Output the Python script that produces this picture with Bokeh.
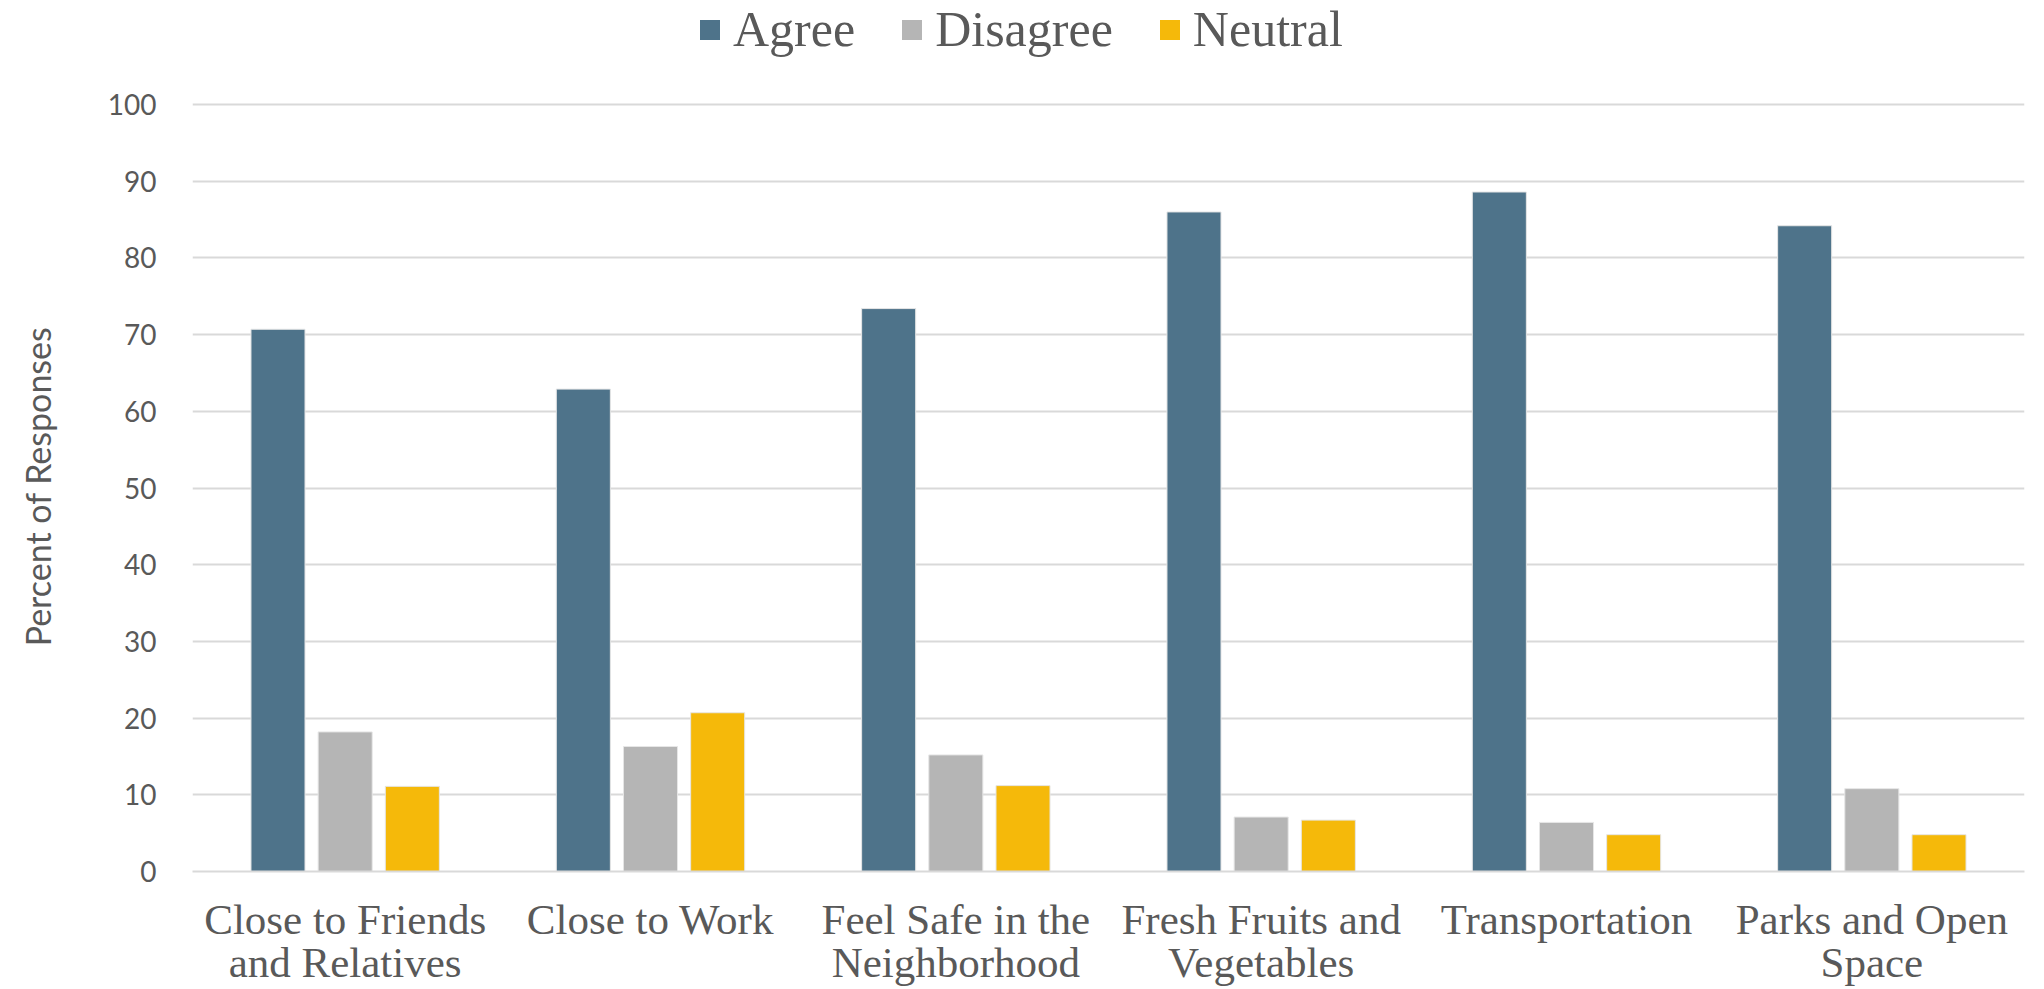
from bokeh.plotting import figure
from bokeh.models import ColumnDataSource, Legend, LegendItem, FactorRange
from bokeh.layouts import column
from bokeh.transform import dodge
from bokeh.embed import file_html
from bokeh.resources import INLINE

categories = ["Close to Friends\nand Relatives", "Close to Work", "Feel Safe in the\nNeighborhood",
              "Fresh Fruits and\nVegetables", "Transportation", "Parks and Open\nSpace"]
agree = [70.7, 62.9, 73.4, 86.0, 88.6, 84.2]
disagree = [18.2, 16.3, 15.2, 7.1, 6.4, 10.8]
neutral = [11.1, 20.7, 11.2, 6.7, 4.8, 4.8]
series_names = ["Agree", "Disagree", "Neutral"]
colors = ["#4E738A", "#B5B5B5", "#F5B90A"]
y_ticks = [0, 10, 20, 30, 40, 50, 60, 70, 80, 90, 100]

src = ColumnDataSource(dict(cat=categories, agree=agree, disagree=disagree, neutral=neutral))

W, H = 2040, 989
T = 72  # legend strip height
FRAME_LEFT = 192

# ---- legend strip ----
lg = figure(width=W, height=T, x_range=(0, 1), y_range=(0, 1), x_axis_type=None, y_axis_type=None,
            output_backend="svg", toolbar_location=None,
            min_border_left=FRAME_LEFT, min_border_right=W - 2024, min_border_top=0, min_border_bottom=0)
lg.outline_line_color = None
lg.xgrid.visible = False
lg.ygrid.visible = False
proxy = ColumnDataSource(dict(x=[float("nan")], top=[float("nan")]))  # legend proxies only, nothing drawn
lg_renderers = [lg.vbar(x="x", top="top", width=0.1, source=proxy, fill_color=c, line_color=None)
                for c in colors]
legend = Legend(items=[LegendItem(label=n, renderers=[r]) for n, r in zip(series_names, lg_renderers)],
                orientation="horizontal", location=(697 - FRAME_LEFT, 14))
legend.label_text_font = "Liberation Serif"
legend.label_text_font_size = "50px"
legend.label_text_color = "#595959"
legend.glyph_width = 25
legend.glyph_height = 25
legend.label_standoff = 11
legend.spacing = 44
legend.padding = 0
legend.margin = 0
legend.border_line_color = None
legend.background_fill_alpha = 0
lg.add_layout(legend, "center")

# ---- main chart ----
MH = H - T
p = figure(x_range=FactorRange(*categories), y_range=(0, 100.4), width=W, height=MH,
           output_backend="svg", toolbar_location=None,
           min_border_left=FRAME_LEFT, min_border_right=W - 2024, min_border_top=101 - T,
           min_border_bottom=H - 871)
p.outline_line_color = None
p.background_fill_color = "white"

for key, off, col in zip(["agree", "disagree", "neutral"], [-0.22, 0.0, 0.22], colors):
    p.vbar(x=dodge("cat", off, range=p.x_range), top=key, width=0.177, source=src,
           fill_color=col, line_color="#E6E6E6", line_width=1)

# grid
p.xgrid.grid_line_color = None
p.ygrid.grid_line_color = "#D9D9D9"
p.ygrid.grid_line_width = 2
p.yaxis.ticker = y_ticks

# y axis
p.yaxis.axis_line_color = None
p.yaxis.major_tick_line_color = None
p.yaxis.minor_tick_line_color = None
p.yaxis.major_tick_out = 0
p.yaxis.major_tick_in = 0
p.yaxis.major_label_text_font = "Lato"
p.yaxis.major_label_text_font_size = "28px"
p.yaxis.major_label_text_color = "#595959"
p.yaxis.major_label_standoff = 36
p.yaxis.axis_label = "Percent of Responses"
p.yaxis.axis_label_text_font = "Lato"
p.yaxis.axis_label_text_font_style = "normal"
p.yaxis.axis_label_text_font_size = "34px"
p.yaxis.axis_label_text_color = "#595959"
p.yaxis.axis_label_standoff = 47

# x axis
p.xaxis.axis_line_color = "#D9D9D9"
p.xaxis.axis_line_width = 2
p.xaxis.major_tick_line_color = None
p.xaxis.minor_tick_line_color = None
p.xaxis.major_tick_out = 0
p.xaxis.major_tick_in = 0
p.xaxis.major_label_text_font = "Liberation Serif"
p.xaxis.major_label_text_font_size = "43px"
p.xaxis.major_label_text_color = "#595959"
p.xaxis.major_label_standoff = 24
p.xaxis.major_label_text_line_height = 0.93

layout = column(lg, p, spacing=0)
open("out.html", "w").write(file_html(layout, INLINE))
